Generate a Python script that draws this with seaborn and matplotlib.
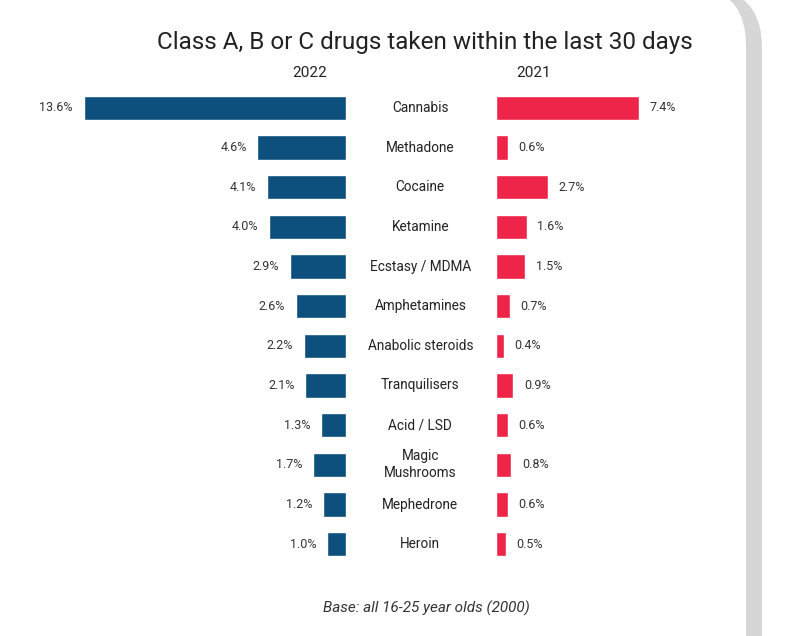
import matplotlib
matplotlib.use("Agg")
import matplotlib.pyplot as plt
import seaborn as sns
import pandas as pd
from matplotlib.patches import FancyBboxPatch

drugs = ["Cannabis", "Methadone", "Cocaine", "Ketamine", "Ecstasy / MDMA", "Amphetamines",
         "Anabolic steroids", "Tranquilisers", "Acid / LSD", "Magic\nMushrooms", "Mephedrone", "Heroin"]
v2022 = [13.6, 4.6, 4.1, 4.0, 2.9, 2.6, 2.2, 2.1, 1.3, 1.7, 1.2, 1.0]
v2021 = [7.4, 0.6, 2.7, 1.6, 1.5, 0.7, 0.4, 0.9, 0.6, 0.8, 0.6, 0.5]

df = pd.DataFrame({"drug": drugs, "y2022": v2022, "y2021": v2021})

sns.set_theme(style="white")
plt.rcParams['font.family'] = ['Roboto', 'DejaVu Sans']
W, H = 800, 636
fig = plt.figure(figsize=(8, 6.36), dpi=100)

# card background with shadow
bg = fig.add_axes([0, 0, 1, 1]); bg.set_xlim(0, W); bg.set_ylim(H, 0); bg.axis("off")
bg.add_patch(FancyBboxPatch((-60, -12), 822, 760, boxstyle="round,pad=0,rounding_size=60",
                            fc="#d6d6d6", ec="none"))
bg.add_patch(FancyBboxPatch((-60, -14), 806, 760, boxstyle="round,pad=0,rounding_size=60",
                            fc="white", ec="none"))

top, bot = 88, 564
scale = 19.3  # px per percent
lw = 14 * scale
axL = fig.add_axes([(346 - lw) / W, 1 - bot / H, lw / W, (bot - top) / H])
axR = fig.add_axes([496 / W, 1 - bot / H, lw / W, (bot - top) / H])

sns.barplot(data=df, y="drug", x="y2022", ax=axL, color="#0d4f7d", width=0.62, saturation=1, orient="h")
sns.barplot(data=df, y="drug", x="y2021", ax=axR, color="#ee2548", width=0.62, saturation=1, orient="h")
axL.set_xlim(14, 0)
axR.set_xlim(0, 14)
for ax in (axL, axR):
    ax.axis("off")
    ax.set_ylim(len(drugs) - 0.5, -0.5)

for i, (d, a, b) in enumerate(zip(drugs, v2022, v2021)):
    axL.text(a + 0.55, i, f"{a:.1f}%", ha="right", va="center", fontsize=9, color="#333333")
    axR.text(b + 0.55, i, f"{b:.1f}%", ha="left", va="center", fontsize=9, color="#333333")
    axL.text(-3.85, i, d, ha="center", va="center", fontsize=9.8, color="#222222",
             linespacing=1.3, clip_on=False)

fig.text(425 / W, 1 - 42 / H, "Class A, B or C drugs taken within the last 30 days",
         ha="center", va="center", fontsize=17.5, color="#222222")
fig.text(310 / W, 1 - 73 / H, "2022", ha="center", va="center", fontsize=11, color="#222222")
fig.text(534 / W, 1 - 73 / H, "2021", ha="center", va="center", fontsize=11, color="#222222")
fig.text(426 / W, 1 - 608 / H, "Base: all 16-25 year olds (2000)", ha="center", va="center",
         fontsize=11, style="italic", color="#333333")

fig.savefig("out.png", dpi=100)
